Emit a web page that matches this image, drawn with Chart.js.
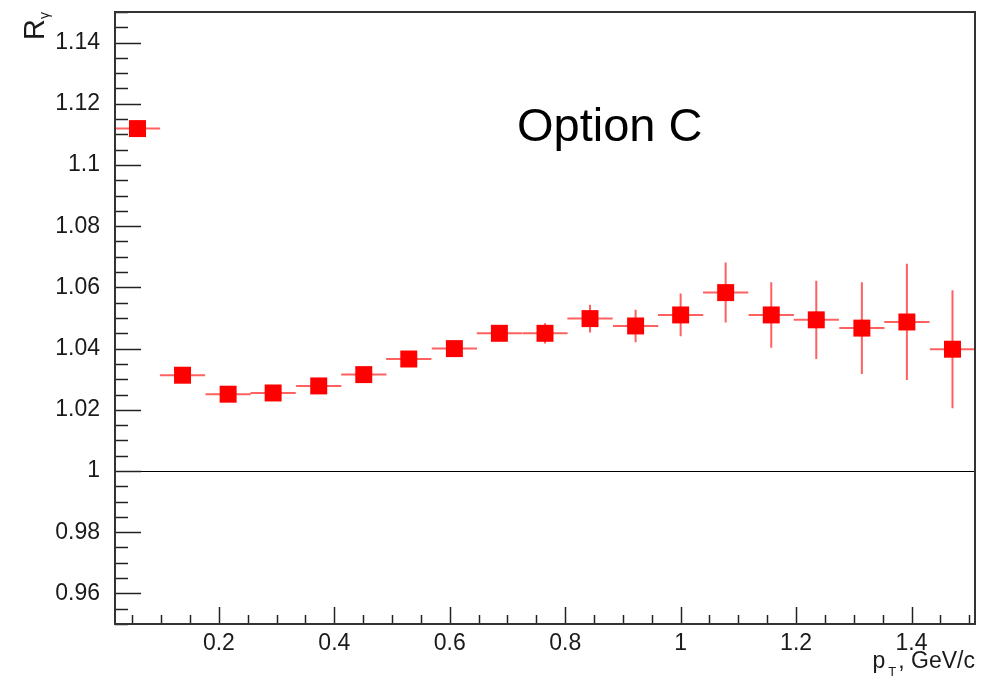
<!DOCTYPE html>
<html>
<head>
<meta charset="utf-8">
<script src="https://cdn.jsdelivr.net/npm/chart.js@4"></script>
<style>
  html, body { margin: 0; padding: 0; background: #fff; }
  #wrap { width: 991px; height: 680px; }
</style>
</head>
<body>
<div id="wrap"><canvas id="chart" width="991" height="680"></canvas></div>
<script>
// bin centres (pT, GeV/c), bin half width, values and errors
const ptCenters = [0.059, 0.137, 0.216, 0.294, 0.373, 0.451, 0.529, 0.608, 0.686, 0.765,
                   0.843, 0.922, 1.000, 1.078, 1.157, 1.235, 1.314, 1.392, 1.471];
const binHalfWidth = 0.0392;
const rGamma = [1.1119, 1.0313, 1.0251, 1.0255, 1.0278, 1.0315, 1.0366, 1.0400, 1.0450, 1.0450,
                1.0498, 1.0474, 1.0510, 1.0583, 1.0510, 1.0494, 1.0467, 1.0487, 1.0398];
const rErrors = [0.001, 0.001, 0.001, 0.001, 0.0012, 0.0013, 0.0015, 0.0018, 0.002, 0.0033,
                 0.0045, 0.0053, 0.0070, 0.0098, 0.0107, 0.0128, 0.0150, 0.0190, 0.0193];

const xTicks = [0.2, 0.4, 0.6, 0.8, 1.0, 1.2, 1.4];
const yTicks = [0.96, 0.98, 1.00, 1.02, 1.04, 1.06, 1.08, 1.10, 1.12, 1.14];
const xRange = [0.02, 1.51];
const yRange = [0.95, 1.15];
const xMinorStep = 0.05;
const yMinorStep = 0.005;
const refLine = 1.0;

const FONT = "'Liberation Sans', Arial, sans-serif";
const RED = "#ff0000";

const points = ptCenters.map((x, i) => ({ x: x, y: rGamma[i] }));

// ROOT-like frame, inner ticks, error bars and axis titles
const rootStyle = {
  id: "rootStyle",
  beforeDatasetsDraw(chart) {
    const { ctx, chartArea: a, scales: { x, y } } = chart;
    ctx.save();
    // reference line at R = 1
    ctx.strokeStyle = "#000";
    ctx.lineWidth = 1;
    const y1 = Math.round(y.getPixelForValue(refLine)) + 0.5;
    ctx.beginPath(); ctx.moveTo(a.left, y1); ctx.lineTo(a.right, y1); ctx.stroke();

    // error bars
    ctx.strokeStyle = "rgba(255,30,30,0.7)";
    ctx.lineWidth = 2;
    ptCenters.forEach((px, i) => {
      const cx = x.getPixelForValue(px);
      const cy = y.getPixelForValue(rGamma[i]);
      const xl = Math.max(a.left, x.getPixelForValue(px - binHalfWidth));
      const xr = Math.min(a.right, x.getPixelForValue(px + binHalfWidth));
      ctx.beginPath();
      ctx.moveTo(xl, cy); ctx.lineTo(xr, cy);
      ctx.moveTo(cx, y.getPixelForValue(rGamma[i] + rErrors[i]));
      ctx.lineTo(cx, y.getPixelForValue(rGamma[i] - rErrors[i]));
      ctx.stroke();
    });
    ctx.restore();
  },
  afterDraw(chart) {
    const { ctx, chartArea: a, scales: { x, y } } = chart;
    ctx.save();
    ctx.strokeStyle = "#222";
    ctx.lineWidth = 1.5;
    // y ticks (inside)
    for (let v = yRange[0]; v <= yRange[1] + 1e-9; v += yMinorStep) {
      const vv = Math.round(v * 1000) / 1000;
      const major = yTicks.some(t => Math.abs(t - vv) < 1e-6);
      const py = Math.round(y.getPixelForValue(vv)) + 0.5;
      ctx.beginPath(); ctx.moveTo(a.left, py); ctx.lineTo(a.left + (major ? 26 : 13), py); ctx.stroke();
    }
    // x ticks (inside)
    for (let v = 0.05; v <= xRange[1] + 1e-9; v += xMinorStep) {
      const vv = Math.round(v * 1000) / 1000;
      const major = xTicks.some(t => Math.abs(t - vv) < 1e-6);
      const px = Math.round(x.getPixelForValue(vv)) + 0.5;
      ctx.beginPath(); ctx.moveTo(px, a.bottom); ctx.lineTo(px, a.bottom - (major ? 17 : 9)); ctx.stroke();
    }
    // frame
    ctx.lineWidth = 2;
    ctx.strokeStyle = "#333";
    ctx.strokeRect(a.left, a.top, a.right - a.left, a.bottom - a.top);

    // annotation
    ctx.fillStyle = "#000";
    ctx.font = "47px " + FONT;
    ctx.textAlign = "left";
    ctx.textBaseline = "alphabetic";
    ctx.fillText("Option C", 517, 141);

    // x title
    ctx.fillStyle = "#1a1a1a";
    ctx.font = "23px " + FONT;
    ctx.textAlign = "right";
    ctx.fillText(", GeV/c", 975, 668);
    const wRest = ctx.measureText(", GeV/c").width;
    ctx.font = "13px " + FONT;
    ctx.fillText("T", 975 - wRest - 2, 676);
    const wT = ctx.measureText("T").width;
    ctx.font = "23px " + FONT;
    ctx.fillText("p", 975 - wRest - wT - 5, 668);

    // y title (rotated)
    ctx.translate(44, 12);
    ctx.rotate(-Math.PI / 2);
    ctx.textAlign = "right";
    ctx.font = "14px " + FONT;
    ctx.fillText("\u03b3", 0, 5);
    const wg = ctx.measureText("\u03b3").width;
    ctx.font = "29px " + FONT;
    ctx.fillText("R", -wg, 0);
    ctx.restore();
  }
};

new Chart(document.getElementById("chart"), {
  type: "scatter",
  data: {
    datasets: [{
      data: points,
      pointStyle: "rect",
      pointRadius: 12,
      pointHoverRadius: 12,
      backgroundColor: RED,
      borderColor: RED,
      borderWidth: 0
    }]
  },
  options: {
    responsive: false,
    animation: false,
    events: [],
    layout: { padding: { top: 9, right: 16, left: 0, bottom: 0 } },
    plugins: { legend: { display: false }, tooltip: { enabled: false } },
    scales: {
      x: {
        type: "linear",
        min: xRange[0], max: xRange[1],
        afterBuildTicks: s => { s.ticks = xTicks.map(v => ({ value: v })); },
        afterFit: s => { s.height = 56; s.paddingLeft = 0; s.paddingRight = 0; },
        grid: { display: false },
        border: { display: false },
        ticks: {
          padding: -2,
          color: "#1a1a1a",
          font: { family: FONT, size: 23 },
          callback: v => String(+v.toFixed(2))
        }
      },
      y: {
        type: "linear",
        min: yRange[0], max: yRange[1],
        afterBuildTicks: s => { s.ticks = yTicks.map(v => ({ value: v })); },
        afterFit: s => { s.width = 115; s.paddingTop = 0; s.paddingBottom = 0; },
        grid: { display: false },
        border: { display: false },
        ticks: {
          padding: 7,
          color: "#1a1a1a",
          font: { family: FONT, size: 23, lineHeight: 0.75 },
          callback: v => String(+v.toFixed(2))
        }
      }
    }
  },
  plugins: [rootStyle]
});
</script>
</body>
</html>
